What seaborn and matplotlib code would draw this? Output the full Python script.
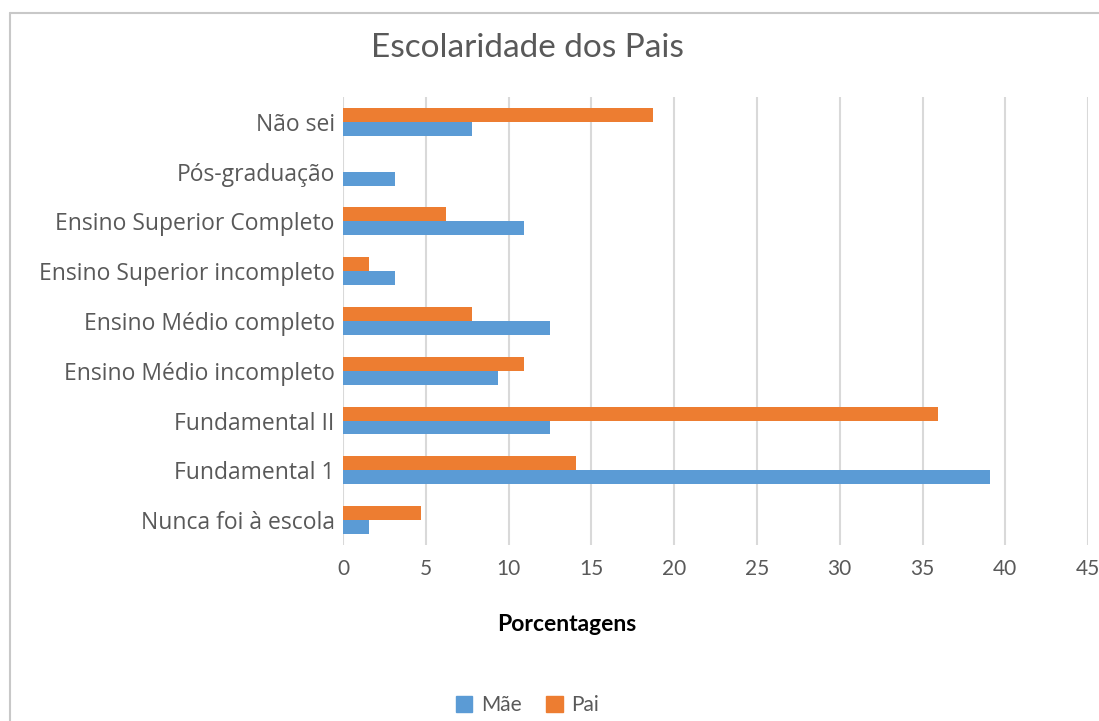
import pandas as pd
import matplotlib.pyplot as plt
import seaborn as sns
from matplotlib.patches import Patch
from matplotlib.lines import Line2D

# Data (percentages)
categorias = ['Não sei', 'Pós-graduação', 'Ensino Superior Completo',
              'Ensino Superior incompleto', 'Ensino Médio completo',
              'Ensino Médio incompleto', 'Fundamental II', 'Fundamental 1',
              'Nunca foi à escola']
mae = [7.81, 3.13, 10.94, 3.13, 12.5, 9.38, 12.5, 39.06, 1.56]
pai = [18.75, 0.0, 6.25, 1.56, 7.81, 10.94, 35.94, 14.06, 4.69]
x_ticks = [0, 5, 10, 15, 20, 25, 30, 35, 40, 45]

cor_mae = '#5B9BD5'
cor_pai = '#ED7D31'
cor_texto = '#595959'

df = pd.DataFrame({
    'categoria': categorias * 2,
    'valor': pai + mae,
    'grupo': ['Pai'] * len(categorias) + ['Mãe'] * len(categorias),
})

sns.set_theme(style='white')
plt.rcParams['font.family'] = ['Lato', 'DejaVu Sans']

fig = plt.figure(figsize=(10.99, 7.21), dpi=100)
ax = fig.add_axes([0.3121, 0.2441, 0.678, 0.6214])

sns.barplot(data=df, x='valor', y='categoria', hue='grupo', order=categorias,
            hue_order=['Pai', 'Mãe'], palette={'Pai': cor_pai, 'Mãe': cor_mae},
            width=0.56, orient='h', ax=ax, legend=False, saturation=1,
            linewidth=0)

ax.set_xlim(0, 45)
ax.set_xticks(x_ticks)
ax.set_ylim(8.5, -0.5)
ax.grid(axis='x', color='#d9d9d9', linewidth=1.5)
ax.set_axisbelow(True)
for s in ax.spines.values():
    s.set_visible(False)
ax.set_xlabel('')
ax.set_ylabel('')
ax.tick_params(axis='both', length=0, colors=cor_texto, pad=6)
ax.tick_params(axis='x', pad=10, labelsize=15)
for lbl in ax.get_yticklabels():
    lbl.set_fontfamily(['Open Sans', 'DejaVu Sans'])
    lbl.set_fontsize(16.5)

# Title, axis label, legend
fig.text(0.48, 0.933, 'Escolaridade dos Pais', ha='center', va='center',
         fontsize=24, color=cor_texto)
fig.text(0.516, 0.134, 'Porcentagens', ha='center', va='center',
         fontsize=16.5, fontweight='bold', color='black')
handles = [Patch(color=cor_mae, label='Mãe'), Patch(color=cor_pai, label='Pai')]
fig.legend(handles=handles, loc='center', bbox_to_anchor=(0.48, 0.022), ncol=2,
           frameon=False, fontsize=15, labelcolor=cor_texto, handlelength=0.8,
           handleheight=0.8, columnspacing=1.2, handletextpad=0.4)

# Chart area border (partially visible as in the screenshot)
fig.add_artist(Line2D([0.009, 1.0], [0.982, 0.982], color='#c8c8c8', lw=1.5,
                      transform=fig.transFigure))
fig.add_artist(Line2D([0.009, 0.009], [0.0, 0.982], color='#c8c8c8', lw=1.5,
                      transform=fig.transFigure))

fig.savefig('out.png', dpi=100)
